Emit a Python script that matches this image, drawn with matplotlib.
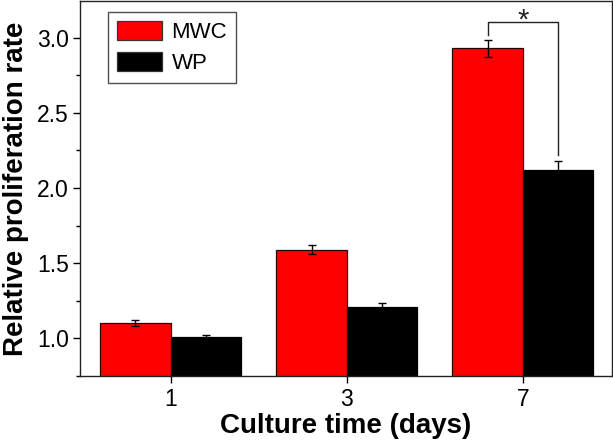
import matplotlib
matplotlib.use("Agg")
import matplotlib.pyplot as plt
import numpy as np
from matplotlib.ticker import MultipleLocator

plt.rcParams['font.family'] = ['Liberation Sans', 'DejaVu Sans']

days = ["1", "3", "7"]
mwc = [1.10, 1.59, 2.93]
mwc_err = [0.022, 0.032, 0.057]
wp = [1.01, 1.21, 2.12]
wp_err = [0.008, 0.025, 0.057]
series_labels = ["MWC", "WP"]
sig_label = "*"

fig = plt.figure(figsize=(6.13, 4.46), dpi=100)
ax = fig.add_axes([0.1305, 0.1576, 0.8675, 0.8402])

x = np.arange(len(days))
w = 0.4
err_kw = dict(ecolor='black', elinewidth=1.0, capsize=2.6, capthick=1.0)
ax.bar(x - w/2, mwc, w, yerr=mwc_err, color='#ff0000', edgecolor='#2a0000',
       linewidth=0.9, label=series_labels[0], error_kw=err_kw, zorder=2)
ax.bar(x + w/2, wp, w, yerr=wp_err, color='#000000', edgecolor='#000000',
       linewidth=0.9, label=series_labels[1], error_kw=err_kw, zorder=2)

# significance bracket between MWC and WP at day 7
i = 2
top = 3.105
left_bottom = mwc[i] + mwc_err[i] + 0.03
right_bottom = wp[i] + wp_err[i] + 0.045
ax.plot([x[i] - w/2, x[i] - w/2, x[i] + w/2, x[i] + w/2],
        [left_bottom, top, top, right_bottom], color='#222222', lw=1.0, zorder=3)
ax.text(x[i], 3.06, sig_label, ha='center', va='baseline', fontsize=21, color='#222222')

ax.set_xlim(-0.515, 2.505)
ax.set_ylim(0.75, 3.245)
ax.set_xticks(x)
ax.set_xticklabels(days)
ax.yaxis.set_major_locator(MultipleLocator(0.5))
ax.yaxis.set_minor_locator(MultipleLocator(0.25))
ax.tick_params(axis='both', which='major', direction='out', length=5, width=1,
               labelsize=16.5, pad=3)
ax.tick_params(axis='y', which='minor', direction='out', length=3, width=1)
ax.tick_params(axis='x', which='major', pad=4)

for s in ax.spines.values():
    s.set_linewidth(1.0)
    s.set_color('#222222')

ax.set_xlabel("Culture time (days)", fontsize=20, fontweight='bold', labelpad=1)
ax.set_ylabel("Relative proliferation rate", fontsize=20, fontweight='bold', labelpad=6)

leg = ax.legend(loc='upper left', bbox_to_anchor=(0.052, 0.9714), borderaxespad=0,
                fontsize=16, handlelength=2.05, handleheight=0.95, handletextpad=0.42,
                borderpad=0.4, labelspacing=0.4, fancybox=False, frameon=True)
leg.get_frame().set_edgecolor('#222222')
leg.get_frame().set_linewidth(1.0)
for p in leg.get_patches():
    p.set_edgecolor('#333333')

fig.savefig("out.png", dpi=100)
